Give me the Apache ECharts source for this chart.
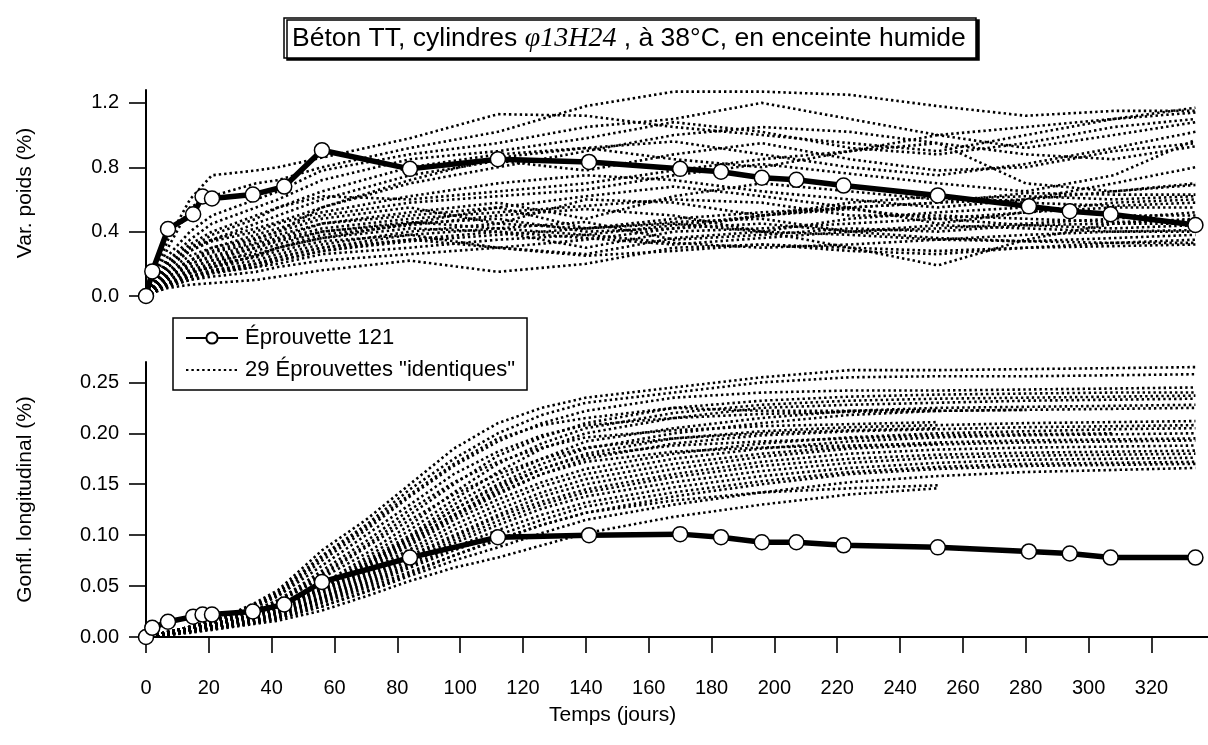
<!DOCTYPE html>
<html><head><meta charset="utf-8">
<script src="https://cdn.jsdelivr.net/npm/echarts@6/dist/echarts.min.js"></script>
<style>html,body{margin:0;padding:0;background:#fff}#c{width:1208px;height:745px}</style>
</head><body><div id="c"></div>
<script>
// ---------- DATA ----------
const xTicks = [0,20,40,60,80,100,120,140,160,180,200,220,240,260,280,300,320];
const topTicks = [0,0.4,0.8,1.2];
const topMinor = [0.2,0.6,1.0];
const botTicks = [0,0.05,0.10,0.15,0.20,0.25];

// Eprouvette 121
const days121 = [0,2,7,15,18,21,34,44,56,84,112,141,170,183,196,207,222,252,281,294,307,334];
const poids121 = [0,0.153,0.416,0.508,0.618,0.606,0.63,0.68,0.906,0.79,0.85,0.833,0.79,0.772,0.735,0.722,0.686,0.625,0.557,0.527,0.508,0.441];
const gonfl121 = [0,0.009,0.015,0.020,0.022,0.022,0.025,0.032,0.054,0.078,0.098,0.100,0.101,0.098,0.093,0.093,0.090,0.088,0.084,0.082,0.078,0.078];

// 29 "identical" specimens - weight variation
const daysT = [0,2,7,14,21,35,42,56,84,112,140,168,196,224,252,280,308,334];
const T1 = [0,0.10,0.35,0.60,0.75,0.78,0.80,0.86,0.98,1.13,1.12,1.05,1.00,0.95,0.90,1.00,1.10,1.17];
const T2 = [0,0.08,0.30,0.55,0.62,0.70,0.72,0.80,0.92,1.02,1.18,1.27,1.27,1.25,1.18,1.12,1.15,1.15];
const T3 = [0,0.05,0.25,0.40,0.50,0.60,0.65,0.78,0.88,0.95,1.05,1.10,1.20,1.10,1.00,0.92,1.00,1.08];
const T4 = [0,0.06,0.22,0.35,0.45,0.55,0.60,0.72,0.85,0.90,0.98,1.08,1.02,0.92,0.88,0.95,1.05,1.10];
const T5 = [0,0.05,0.20,0.30,0.38,0.48,0.55,0.65,0.80,0.88,0.92,0.85,0.80,0.90,1.00,1.05,1.10,1.14];
const T6 = [0,0.04,0.18,0.28,0.35,0.45,0.50,0.60,0.75,0.84,0.78,0.88,0.95,0.85,0.78,0.80,0.90,0.95];
const T7 = [0,0.05,0.20,0.30,0.35,0.42,0.46,0.55,0.70,0.80,0.90,1.00,1.05,1.02,0.95,0.88,0.85,0.93];
const T8 = [0,0.06,0.22,0.32,0.40,0.50,0.55,0.62,0.60,0.65,0.70,0.78,0.85,0.90,0.95,0.70,0.65,0.70];
const T9 = [0,0.04,0.16,0.25,0.30,0.38,0.42,0.50,0.58,0.62,0.66,0.75,0.82,0.76,0.70,0.65,0.75,0.97];
const T10 = [0,0.03,0.12,0.20,0.25,0.32,0.36,0.45,0.52,0.58,0.48,0.62,0.70,0.65,0.60,0.62,0.60,0.62];
const T11 = [0,0.03,0.14,0.22,0.28,0.35,0.40,0.48,0.55,0.45,0.60,0.58,0.50,0.58,0.62,0.58,0.56,0.58];
const T12 = [0,0.04,0.15,0.22,0.27,0.33,0.38,0.45,0.50,0.55,0.42,0.48,0.52,0.55,0.45,0.52,0.55,0.55];
const T13 = [0,0.03,0.12,0.18,0.22,0.30,0.35,0.42,0.48,0.52,0.56,0.60,0.58,0.50,0.50,0.48,0.46,0.47];
const T14 = [0,0.03,0.10,0.16,0.20,0.28,0.32,0.40,0.45,0.48,0.40,0.42,0.50,0.55,0.58,0.60,0.65,0.69];
const T15 = [0,0.02,0.10,0.15,0.18,0.25,0.30,0.38,0.44,0.50,0.54,0.50,0.40,0.48,0.52,0.55,0.50,0.50];
const T16 = [0,0.03,0.12,0.18,0.22,0.26,0.30,0.36,0.42,0.40,0.30,0.40,0.42,0.45,0.48,0.44,0.45,0.45];
const T17 = [0,0.02,0.08,0.14,0.18,0.22,0.26,0.32,0.40,0.45,0.42,0.46,0.48,0.40,0.42,0.45,0.48,0.52];
const T18 = [0,0.02,0.10,0.16,0.20,0.24,0.28,0.34,0.38,0.42,0.46,0.35,0.38,0.42,0.40,0.44,0.42,0.44];
const T19 = [0,0.02,0.08,0.12,0.16,0.20,0.24,0.30,0.38,0.30,0.26,0.36,0.40,0.38,0.35,0.38,0.40,0.40];
const T20 = [0,0.02,0.06,0.10,0.14,0.18,0.22,0.28,0.35,0.30,0.35,0.42,0.45,0.40,0.36,0.34,0.36,0.38];
const T21 = [0,0.02,0.08,0.12,0.15,0.18,0.20,0.26,0.30,0.35,0.38,0.33,0.30,0.32,0.35,0.34,0.33,0.33];
const T22 = [0,0.02,0.05,0.07,0.08,0.10,0.12,0.16,0.22,0.15,0.20,0.30,0.32,0.28,0.26,0.30,0.33,0.35];
const T23 = [0,0.02,0.06,0.10,0.12,0.15,0.18,0.22,0.26,0.30,0.25,0.28,0.32,0.30,0.28,0.30,0.31,0.32];
const T24 = [0,0.02,0.07,0.12,0.16,0.20,0.22,0.28,0.34,0.38,0.42,0.45,0.40,0.30,0.19,0.35,0.45,0.48];
const T25 = [0,0.02,0.08,0.14,0.18,0.25,0.30,0.36,0.45,0.55,0.62,0.68,0.62,0.55,0.58,0.64,0.63,0.63];
const T26 = [0,0.05,0.18,0.28,0.34,0.40,0.45,0.52,0.62,0.70,0.75,0.72,0.65,0.60,0.55,0.60,0.70,0.80];
const T27 = [0,0.03,0.12,0.20,0.24,0.30,0.34,0.40,0.46,0.42,0.38,0.44,0.50,0.54,0.48,0.52,0.58,0.60];
const T28 = [0,0.02,0.07,0.12,0.15,0.20,0.24,0.30,0.35,0.40,0.36,0.32,0.36,0.40,0.44,0.42,0.40,0.41];
const T29 = [0,0.04,0.14,0.22,0.30,0.36,0.40,0.55,0.72,0.86,0.92,0.96,0.88,0.80,0.75,0.82,0.92,1.02];

// 29 "identical" specimens - longitudinal swelling
const daysB = [0,7,14,21,28,35,42,56,70,84,98,112,126,140,168,196,224,252,280,308,334];
const B1 = [0,.005,.010,.016,.024,.034,.046,.085,.115,.150,.185,.210,.225,.235,.245,.255,.262,.262,.263,.264,.265];
const B2 = [0,.005,.010,.016,.023,.032,.044,.080,.110,.145,.175,.200,.218,.230,.240,.250,.255,.256,.256,.257,.258];
const B3 = [0,.005,.010,.015,.022,.030,.041,.075,.105,.138,.168,.192,.210,.222,.235,.240,.242,.242,.243,.244,.245];
const B4 = [0,.004,.009,.014,.020,.027,.036,.062,.090,.120,.150,.178,.196,.210,.225,.232,.236,.238,.239,.240,.240];
const B5 = [0,.005,.010,.014,.020,.026,.034,.058,.082,.110,.142,.170,.190,.205,.220,.228,.232,.234,.235,.236,.237];
const B6 = [0,.004,.008,.013,.018,.024,.031,.052,.078,.105,.135,.162,.185,.200,.215,.225,.228,.230,.232,.233,.234];
const B7 = [0,.004,.009,.013,.018,.024,.030,.050,.075,.100,.130,.155,.175,.192,.205,.215,.222,.225,.226,.227,.228];
const B8 = [0,.004,.008,.012,.017,.023,.030,.050,.072,.098,.125,.150,.170,.185,.200,.210,.218,.222,.223,.224,.225];
const B9 = [0,.004,.008,.012,.017,.022,.028,.047,.070,.095,.120,.145,.165,.180,.195,.202,.206,.208,.210,.211,.212];
const B10 = [0,.004,.008,.012,.016,.022,.028,.046,.068,.092,.118,.140,.160,.175,.190,.198,.202,.204,.206,.207,.208];
const B11 = [0,.004,.008,.012,.016,.021,.027,.045,.066,.090,.115,.135,.152,.165,.180,.190,.196,.200,.202,.204,.205];
const B12 = [0,.003,.007,.011,.015,.020,.026,.044,.064,.086,.110,.130,.148,.160,.175,.185,.192,.196,.198,.199,.200];
const B13 = [0,.003,.007,.011,.015,.020,.025,.042,.062,.083,.105,.125,.142,.155,.170,.180,.187,.191,.193,.194,.195];
const B14 = [0,.003,.007,.010,.014,.019,.024,.040,.060,.080,.100,.120,.138,.150,.165,.177,.185,.189,.191,.192,.193];
const B15 = [0,.003,.006,.010,.014,.018,.023,.039,.058,.078,.098,.118,.133,.145,.160,.172,.180,.184,.186,.187,.188];
const B16 = [0,.003,.006,.010,.013,.018,.023,.038,.056,.075,.095,.114,.130,.142,.157,.168,.175,.179,.181,.182,.183];
const B17 = [0,.003,.006,.009,.013,.017,.022,.037,.054,.072,.092,.110,.126,.138,.152,.163,.171,.176,.178,.179,.180];
const B18 = [0,.003,.006,.009,.012,.016,.021,.036,.052,.070,.088,.105,.120,.132,.147,.158,.166,.171,.174,.175,.176];
const B19 = [0,.003,.006,.009,.012,.016,.020,.034,.050,.068,.085,.100,.115,.128,.142,.153,.162,.167,.170,.171,.172];
const B20 = [0,.002,.005,.008,.011,.015,.019,.033,.048,.064,.080,.095,.110,.122,.138,.150,.160,.165,.168,.169,.170];
const B21 = [0,.002,.005,.008,.011,.014,.018,.030,.044,.060,.075,.088,.102,.115,.130,.142,.152,.158,.162,.164,.166];
const B22 = [0,.005,.010,.016,.023,.032,.043,.078,.108,.140,.170,.195,.208,.215,.225,.222,.222,.223];
const B23 = [0,.005,.010,.014,.020,.027,.036,.065,.094,.125,.152,.172,.186,.196,.203,.207,.209,.211];
const B24 = [0,.004,.009,.013,.019,.026,.034,.060,.088,.115,.140,.160,.175,.186,.195,.200,.203,.205];
const B25 = [0,.004,.008,.012,.017,.022,.028,.047,.070,.095,.120,.142,.160,.172,.182,.186,.188,.190];
const B26 = [0,.002,.005,.008,.011,.014,.018,.030,.045,.062,.080,.096,.110,.122,.134,.142,.146,.149];
const B27 = [0,.002,.004,.007,.010,.013,.016,.026,.040,.055,.068,.078,.090,.102,.118,.130,.140,.146];
const B28 = [0,.005,.010,.015,.022,.030,.040,.070,.100,.130,.160,.182,.198,.208,.215,.219,.221,.222,.223];
const B29 = [0,.004,.008,.012,.017,.022,.028,.048,.072,.098,.125,.148,.165,.178,.188,.192,.195,.198,.199,.200];

const topSets = [T1,T2,T3,T4,T5,T6,T7,T8,T9,T10,T11,T12,T13,T14,T15,T16,T17,T18,T19,T20,T21,T22,T23,T24,T25,T26,T27,T28,T29];
const botSets = [B1,B2,B3,B4,B5,B6,B7,B8,B9,B10,B11,B12,B13,B14,B15,B16,B17,B18,B19,B20,B21,B22,B23,B24,B25,B26,B27,B28,B29];

const NAME121 = 'Éprouvette 121';
const NAME29 = '29 Éprouvettes "identiques"';

// ---------- CHART ----------
const FONT = 'Liberation Sans, Arial, sans-serif';
const pairs = (d, v) => v.map((y, i) => [d[i], y]);
const dotted = (xi, yi, d, v) => ({
  name: NAME29, type: 'line', xAxisIndex: xi, yAxisIndex: yi, data: pairs(d, v),
  symbol: 'circle', showSymbol: false, silent: true, z: 2,
  itemStyle: { color: 'rgba(0,0,0,0)', borderWidth: 0 },
  lineStyle: { color: '#000', width: 2.6, type: [2.4, 3] }
});
const thick = (xi, yi, d, v) => ({
  name: NAME121, type: 'line', xAxisIndex: xi, yAxisIndex: yi, data: pairs(d, v),
  symbol: 'circle', symbolSize: 15, showAllSymbol: true, z: 5,
  lineStyle: { color: '#000', width: 5.5 },
  itemStyle: { color: '#fff', borderColor: '#000', borderWidth: 1.5 }
});

const series = [];
topSets.forEach(v => series.push(dotted(0, 0, daysT, v)));
botSets.forEach(v => series.push(dotted(1, 2, daysB, v)));
series.push(thick(0, 0, days121, poids121));
series.push(thick(1, 2, days121, gonfl121));

const axisCommon = {
  axisLine: { show: true, lineStyle: { color: '#000', width: 2 } },
  splitLine: { show: false }
};

const chart = echarts.init(document.getElementById('c'), null, { renderer: 'canvas' });
chart.setOption({
  animation: false,
  backgroundColor: '#fff',
  textStyle: { fontFamily: FONT, color: '#000' },
  title: [{
    text: '{a|Béton TT, cylindres }{b|φ13H24}{a| , à 38°C, en enceinte humide}',
    left: 284, top: 18,
    padding: [7, 10, 5, 8],
    borderColor: '#000', borderWidth: 1.5,
    backgroundColor: '#fff',
    shadowColor: '#000', shadowOffsetX: 3, shadowOffsetY: 2, shadowBlur: 0,
    textStyle: {
      fontWeight: 'normal',
      rich: {
        a: { fontFamily: FONT, fontSize: 26.5, fontWeight: 'normal', color: '#000' },
        b: { fontFamily: 'Liberation Serif, serif', fontStyle: 'italic', fontWeight: 'normal', fontSize: 28, color: '#000' }
      }
    }
  }, {
    text: 'Temps (jours)', left: 549, top: 705,
    padding: 0,
    textStyle: { fontFamily: FONT, fontSize: 21, fontWeight: 'normal', color: '#000' }
  }],
  legend: {
    data: [NAME121, NAME29],
    orient: 'vertical', left: 173, top: 318,
    padding: [9, 12, 9, 12], itemGap: 10,
    itemWidth: 52, itemHeight: 14,
    borderColor: '#000', borderWidth: 1.5,
    textStyle: { fontFamily: FONT, fontSize: 22, color: '#000', padding: [0, 0, 0, 2] },
    selectedMode: false
  },
  grid: [
    { left: 146, right: 0, top: 90, height: 206 },
    { left: 146, right: 0, top: 362, height: 275 }
  ],
  xAxis: [
    { type: 'value', gridIndex: 0, min: 0, max: 338, show: false },
    Object.assign({
      type: 'value', gridIndex: 1, min: 0, max: 338, offset: 15,
      axisTick: { show: true, length: 16, lineStyle: { color: '#000', width: 1.6 }, customValues: xTicks },
      axisLabel: { fontFamily: FONT, fontSize: 20, color: '#000', margin: 26, customValues: xTicks }
    }, axisCommon)
  ],
  yAxis: [
    Object.assign({
      type: 'value', gridIndex: 0, min: 0, max: 1.28,
      name: 'Var. poids (%)', nameLocation: 'middle', nameGap: 110, nameRotate: 90,
      nameTextStyle: { fontFamily: FONT, fontSize: 21, color: '#000' },
      axisTick: { show: true, length: 17, lineStyle: { color: '#000', width: 1.6 }, customValues: topTicks },
      axisLabel: { fontFamily: FONT, fontSize: 20, color: '#000', margin: 27, customValues: topTicks,
        formatter: v => v.toFixed(1) }
    }, axisCommon),
    {
      type: 'value', gridIndex: 0, min: 0, max: 1.28,
      axisLine: { show: false }, splitLine: { show: false },
      axisTick: { show: true, length: 10, lineStyle: { color: '#000', width: 1.6 }, customValues: topMinor },
      axisLabel: { show: false }
    },
    Object.assign({
      type: 'value', gridIndex: 1, min: 0, max: 0.27,
      name: 'Gonfl. longitudinal (%)', nameLocation: 'middle', nameGap: 110, nameRotate: 90,
      nameTextStyle: { fontFamily: FONT, fontSize: 21, color: '#000' },
      axisTick: { show: true, length: 17, lineStyle: { color: '#000', width: 1.6 }, customValues: botTicks },
      axisLabel: { fontFamily: FONT, fontSize: 20, color: '#000', margin: 27, customValues: botTicks,
        formatter: v => v.toFixed(2) }
    }, axisCommon)
  ],
  series: series
});
</script>
</body></html>
